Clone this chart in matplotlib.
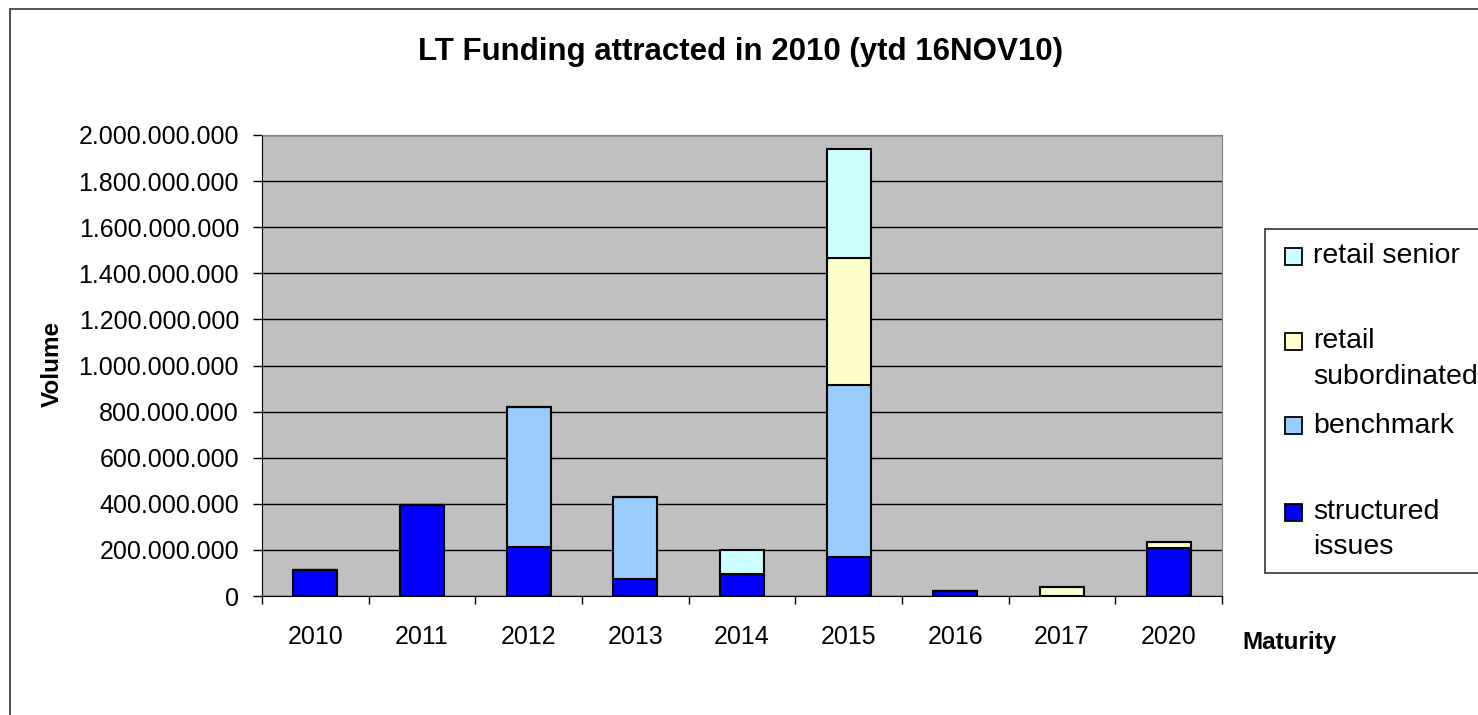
import matplotlib
matplotlib.use("Agg")
import matplotlib.pyplot as plt
from matplotlib.patches import Rectangle
from matplotlib.ticker import FuncFormatter, MultipleLocator
import numpy as np

plt.rcParams['font.family'] = ['Liberation Sans', 'DejaVu Sans']

# maturity years and volumes per funding type
years = ['2010', '2011', '2012', '2013', '2014', '2015', '2016', '2017', '2020']
structured = [112e6, 395e6, 213e6, 74e6, 95e6, 169e6, 20e6, 0, 208e6]
benchmark = [0, 0, 607e6, 356e6, 0, 746e6, 0, 0, 0]
retail_sub = [0, 0, 0, 0, 0, 551e6, 0, 38e6, 26e6]
retail_senior = [0, 0, 0, 0, 105e6, 473e6, 0, 0, 0]

series = [
    ('structured issues', structured, '#0000FF'),
    ('benchmark', benchmark, '#99CCFF'),
    ('retail subordinated', retail_sub, '#FFFFCC'),
    ('retail senior', retail_senior, '#CCFFFF'),
]

W, H = 1478, 715
fig = plt.figure(figsize=(W / 100, H / 100), dpi=100)

# outer chart border (cut off at right and bottom)
fig.patches.append(Rectangle((10 / W, -0.1), 1.2, 1.1 - 9 / H, transform=fig.transFigure,
                             fill=False, edgecolor='#333333', lw=1.2))

ax = fig.add_axes([262 / W, 1 - 596 / H, 960 / W, 461 / H])
ax.set_facecolor('#C0C0C0')

x = np.arange(len(years))
bottom = np.zeros(len(years))
for name, vals, col in series:
    ax.bar(x, vals, width=0.41, bottom=bottom, color=col, edgecolor='black', lw=1.5, zorder=3)
    bottom += np.array(vals)

ax.set_xlim(-0.5, len(years) - 0.5)
ax.set_ylim(0, 2e9)
ax.yaxis.set_major_locator(MultipleLocator(2e8))
ax.yaxis.set_major_formatter(FuncFormatter(lambda v, p: f"{int(round(v)):,}".replace(',', '.')))
ax.yaxis.grid(True, color='black', lw=1)
ax.set_axisbelow(True)

ax.set_xticks(x)
ax.set_xticklabels(years)
ax.set_xticks(np.arange(-0.5, len(years)), minor=True)
ax.tick_params(axis='x', which='major', length=0, pad=21, labelsize=18)
ax.tick_params(axis='x', which='minor', length=6, width=1, direction='out')
ax.tick_params(axis='y', length=6.5, width=1, pad=10, labelsize=18)

for s in ['top', 'right']:
    ax.spines[s].set_color('#808080')
for s in ['left', 'bottom']:
    ax.spines[s].set_color('black')

fig.text(740 / W, 1 - 52 / H, 'LT Funding attracted in 2010 (ytd 16NOV10)',
         ha='center', va='center', fontsize=22.5, fontweight='bold')
fig.text(52 / W, 1 - 364 / H, 'Volume', rotation=90, ha='center', va='center',
         fontsize=17.5, fontweight='bold')
fig.text(1290 / W, 1 - 643 / H, 'Maturity', ha='center', va='center',
         fontsize=17.5, fontweight='bold')

# legend box, drawn like the spreadsheet one
fig.patches.append(Rectangle((1265 / W, 1 - 573 / H), 0.3, (573 - 229) / H, transform=fig.transFigure,
                             facecolor='white', edgecolor='#333333', lw=1.2))
legend_rows = [
    (['retail senior'], '#CCFFFF', [256]),
    (['retail', 'subordinated'], '#FFFFCC', [341, 377]),
    (['benchmark'], '#99CCFF', [426]),
    (['structured', 'issues'], '#0000FF', [512, 547]),
]
for lines, col, ys in legend_rows:
    fig.patches.append(Rectangle((1285 / W, 1 - (ys[0] + 8.5) / H), 17 / W, 17 / H,
                                 transform=fig.transFigure, facecolor=col,
                                 edgecolor='black', lw=1.3))
    for line, yy in zip(lines, ys):
        fig.text(1313 / W, 1 - yy / H, line, ha='left', va='center', fontsize=20.5)

fig.savefig('out.png', dpi=100)
